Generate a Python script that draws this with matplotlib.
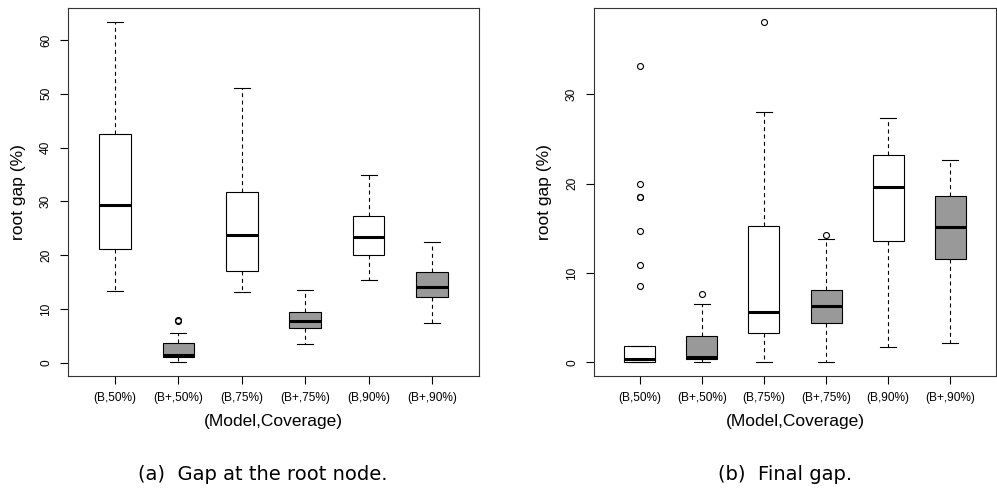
import numpy as np
import matplotlib
matplotlib.use("Agg")
import matplotlib.pyplot as plt

# (Model,Coverage) groups, same order in both panels
groups = ["(B,50%)", "(B+,50%)", "(B,75%)", "(B+,75%)", "(B,90%)", "(B+,90%)"]
fills = ["white", "#999999", "white", "#999999", "white", "#999999"]

# (a) gap at the root node: five-number summaries
root_whislo = [13.3, 0.06, 13.1, 3.4, 15.4, 7.4]
root_q1 = [21.1, 1.0, 17.1, 6.4, 20.0, 12.3]
root_med = [29.4, 1.4, 23.7, 7.7, 23.4, 14.1]
root_q3 = [42.5, 3.6, 31.8, 9.4, 27.2, 16.8]
root_whishi = [63.4, 5.6, 51.0, 13.6, 34.9, 22.4]
root_fliers = [[], [7.7, 8.0], [], [], [], []]

# (b) final gap
final_whislo = [0.0, 0.0, 0.0, 0.0, 1.68, 2.17]
final_q1 = [0.0, 0.34, 3.32, 4.37, 13.6, 11.6]
final_med = [0.37, 0.56, 5.68, 6.35, 19.6, 15.1]
final_q3 = [1.87, 3.0, 15.2, 8.07, 23.2, 18.6]
final_whishi = [1.87, 6.5, 28.0, 13.75, 27.3, 22.6]
final_fliers = [[33.1, 19.9, 18.5, 18.45, 14.7, 10.9, 8.55], [7.66], [38.1], [14.2], [], []]

plt.rcParams['font.family'] = ['Liberation Sans', 'DejaVu Sans']


def make_stats(lo, q1, med, q3, hi, fl):
    return [dict(whislo=a, q1=b, med=c, q3=d, whishi=e, fliers=np.array(f))
            for a, b, c, d, e, f in zip(lo, q1, med, q3, hi, fl)]


def r_boxplot(ax, stats, yticks):
    pos = np.arange(1, len(stats) + 1)
    res = ax.bxp(stats, positions=pos, widths=0.5, capwidths=0.25,
                 patch_artist=True, showfliers=True,
                 boxprops=dict(edgecolor='black', linewidth=0.8),
                 whiskerprops=dict(color='black', linewidth=0.8, linestyle=(0, (3.6, 3.0))),
                 capprops=dict(color='black', linewidth=0.8),
                 medianprops=dict(color='black', linewidth=2.2, solid_capstyle='butt'),
                 flierprops=dict(marker='o', markersize=4.3, markerfacecolor='none',
                                 markeredgecolor='black', markeredgewidth=0.8))
    for patch, c in zip(res['boxes'], fills):
        patch.set_facecolor(c)

    # R style limits: data range plus 4 %
    vals = []
    for s in stats:
        vals += [s['whislo'], s['whishi']] + list(s['fliers'])
    lo, hi = min(vals), max(vals)
    ext = 0.04 * (hi - lo)
    ax.set_ylim(lo - ext, hi + ext)
    n = len(stats)
    ax.set_xlim(0.5 - 0.04 * n, n + 0.5 + 0.04 * n)

    ax.set_xticks(pos)
    ax.set_xticklabels(groups, fontsize=8.6)
    ax.set_yticks(yticks)
    ax.set_yticklabels([str(t) for t in yticks], fontsize=8.6, rotation=90, va='center')
    ax.tick_params(axis='both', direction='out', length=5.5, width=0.8)
    ax.tick_params(axis='y', pad=6)
    ax.tick_params(axis='x', pad=6)
    for sp in ax.spines.values():
        sp.set_linewidth(0.8)
        sp.set_color('#333333')
    ax.set_ylabel("root gap (%)", fontsize=12.5, labelpad=10)
    ax.set_xlabel("(Model,Coverage)", fontsize=12.5, labelpad=7)


fig = plt.figure(figsize=(9.97, 4.91), dpi=100)
ax1 = fig.add_axes([68 / 997, 1 - 376 / 491, (479 - 68) / 997, (376 - 8) / 491])
ax2 = fig.add_axes([594 / 997, 1 - 376 / 491, (996 - 594) / 997, (376 - 8) / 491])

r_boxplot(ax1, make_stats(root_whislo, root_q1, root_med, root_q3, root_whishi, root_fliers),
          [0, 10, 20, 30, 40, 50, 60])
r_boxplot(ax2, make_stats(final_whislo, final_q1, final_med, final_q3, final_whishi, final_fliers),
          [0, 10, 20, 30])

fig.text(262.5 / 997, 1 - 475 / 491, "(a)  Gap at the root node.", ha='center', va='center',
         fontsize=14, family='DejaVu Sans')
fig.text(785 / 997, 1 - 475 / 491, "(b)  Final gap.", ha='center', va='center',
         fontsize=14, family='DejaVu Sans')

fig.savefig("out.png", dpi=100)
